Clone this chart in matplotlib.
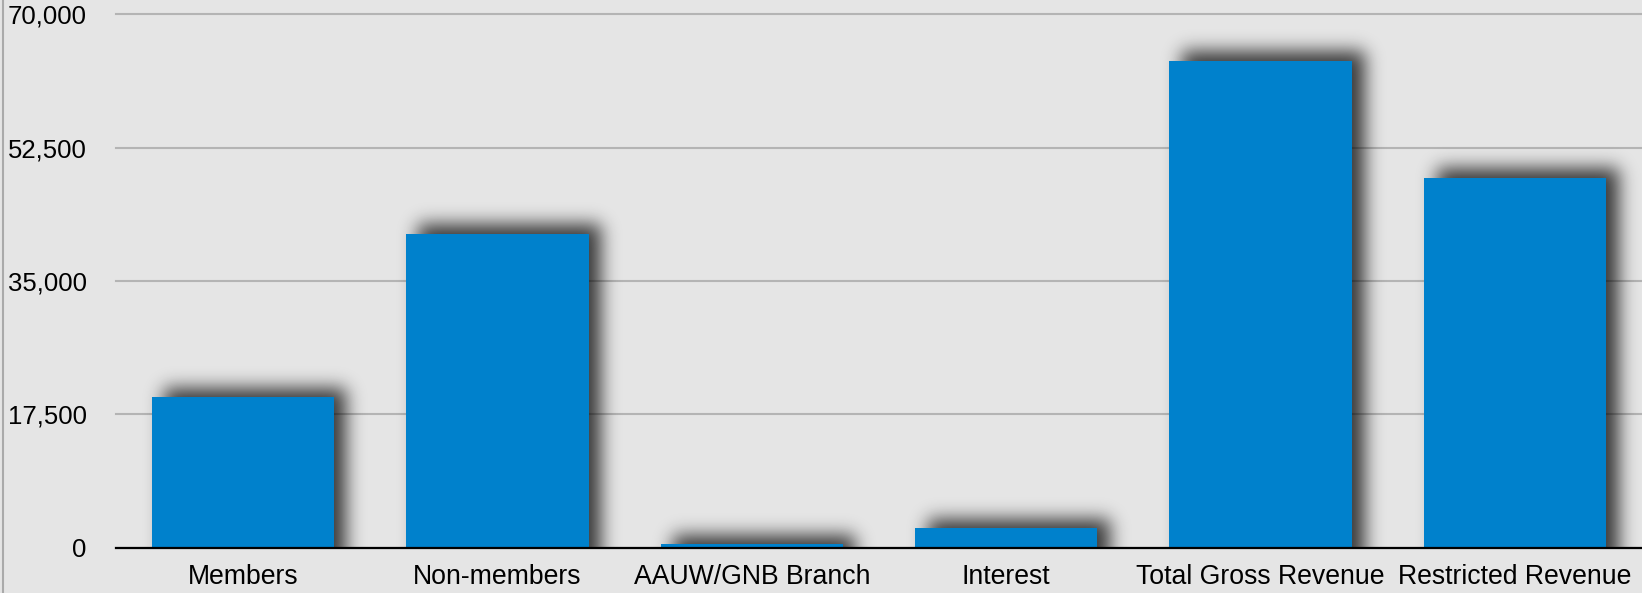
import matplotlib
matplotlib.use('Agg')
import matplotlib.pyplot as plt
from matplotlib.lines import Line2D
import numpy as np

# Revenue categories and values
categories = ['Members', 'Non-members', 'AAUW/GNB Branch', 'Interest',
              'Total Gross Revenue', 'Restricted Revenue']
revenue = [19800, 41200, 500, 2600, 63900, 48500]
y_ticks = [0, 17500, 35000, 52500, 70000]

bar_color = '#0081cc'
bg_color = '#e5e5e5'

plt.rcParams['font.family'] = ['Liberation Sans', 'DejaVu Sans']

fig = plt.figure(figsize=(16.42, 5.93), dpi=100, facecolor=bg_color)
ax = fig.add_axes([116 / 1642, 45.3 / 593, 1 - 116 / 1642, (547.7 - 14.3) / 593])
ax.set_facecolor(bg_color)

x = np.arange(len(categories))
width = 0.716
ax.set_xlim(-0.5, len(categories) - 0.5)
ax.set_ylim(0, 70000)

# blurred drop shadow behind the bars, built in pixel space
bb = ax.get_window_extent()
W, H = int(round(bb.width)), int(round(bb.height))
pad = 50
mask = np.zeros((H + 2 * pad, W + 2 * pad))
dx, dy = 12, 9
for xi, v in zip(x, revenue):
    (x0, y0) = ax.transData.transform((xi - width / 2, 0)) - [bb.x0, bb.y0]
    (x1, y1) = ax.transData.transform((xi + width / 2, v)) - [bb.x0, bb.y0]
    c0, c1 = int(round(x0 + dx)) + pad, int(round(x1 + dx)) + pad
    r0, r1 = int(round(y0)) + pad - 20, int(round(y1 + dy)) + pad
    mask[r0:r1, c0:c1] = 1.0

sigma = 9.0
k = np.arange(-int(3 * sigma), int(3 * sigma) + 1)
kern = np.exp(-k ** 2 / (2 * sigma ** 2))
kern /= kern.sum()
mask = np.apply_along_axis(lambda r: np.convolve(r, kern, mode='same'), 1, mask)
mask = np.apply_along_axis(lambda c: np.convolve(c, kern, mode='same'), 0, mask)
mask = mask[pad:pad + H, pad:pad + W]

shadow = np.zeros((H, W, 4))
shadow[..., 3] = mask * 0.75
ax.imshow(shadow, extent=(0, 1, 0, 1), transform=ax.transAxes, origin='lower',
          aspect='auto', zorder=1, interpolation='nearest')

ax.bar(x, revenue, width=width, color=bar_color, zorder=2)

ax.set_xlim(-0.5, len(categories) - 0.5)
ax.set_ylim(0, 70000)
ax.set_xticks(x)
ax.set_xticklabels(categories, fontsize=19.2)
ax.set_yticks(y_ticks)
ax.set_yticklabels([f'{t:,}' for t in y_ticks], fontsize=18.5)
ax.tick_params(axis='both', length=0)
ax.tick_params(axis='y', pad=21)
ax.tick_params(axis='x', pad=12)

ax.set_axisbelow(True)
ax.grid(axis='y', color='#b4b4b4', linewidth=1.5, clip_on=False)
ax.grid(axis='x', visible=False)
for s in ['left', 'top', 'right']:
    ax.spines[s].set_visible(False)
ax.spines['bottom'].set_color('black')
ax.spines['bottom'].set_linewidth(1.6)

fig.add_artist(Line2D([0.002, 0.002], [0, 1], transform=fig.transFigure,
                      color='#aaaaaa', linewidth=1.5))

fig.savefig('out.png', dpi=100, facecolor=bg_color)
